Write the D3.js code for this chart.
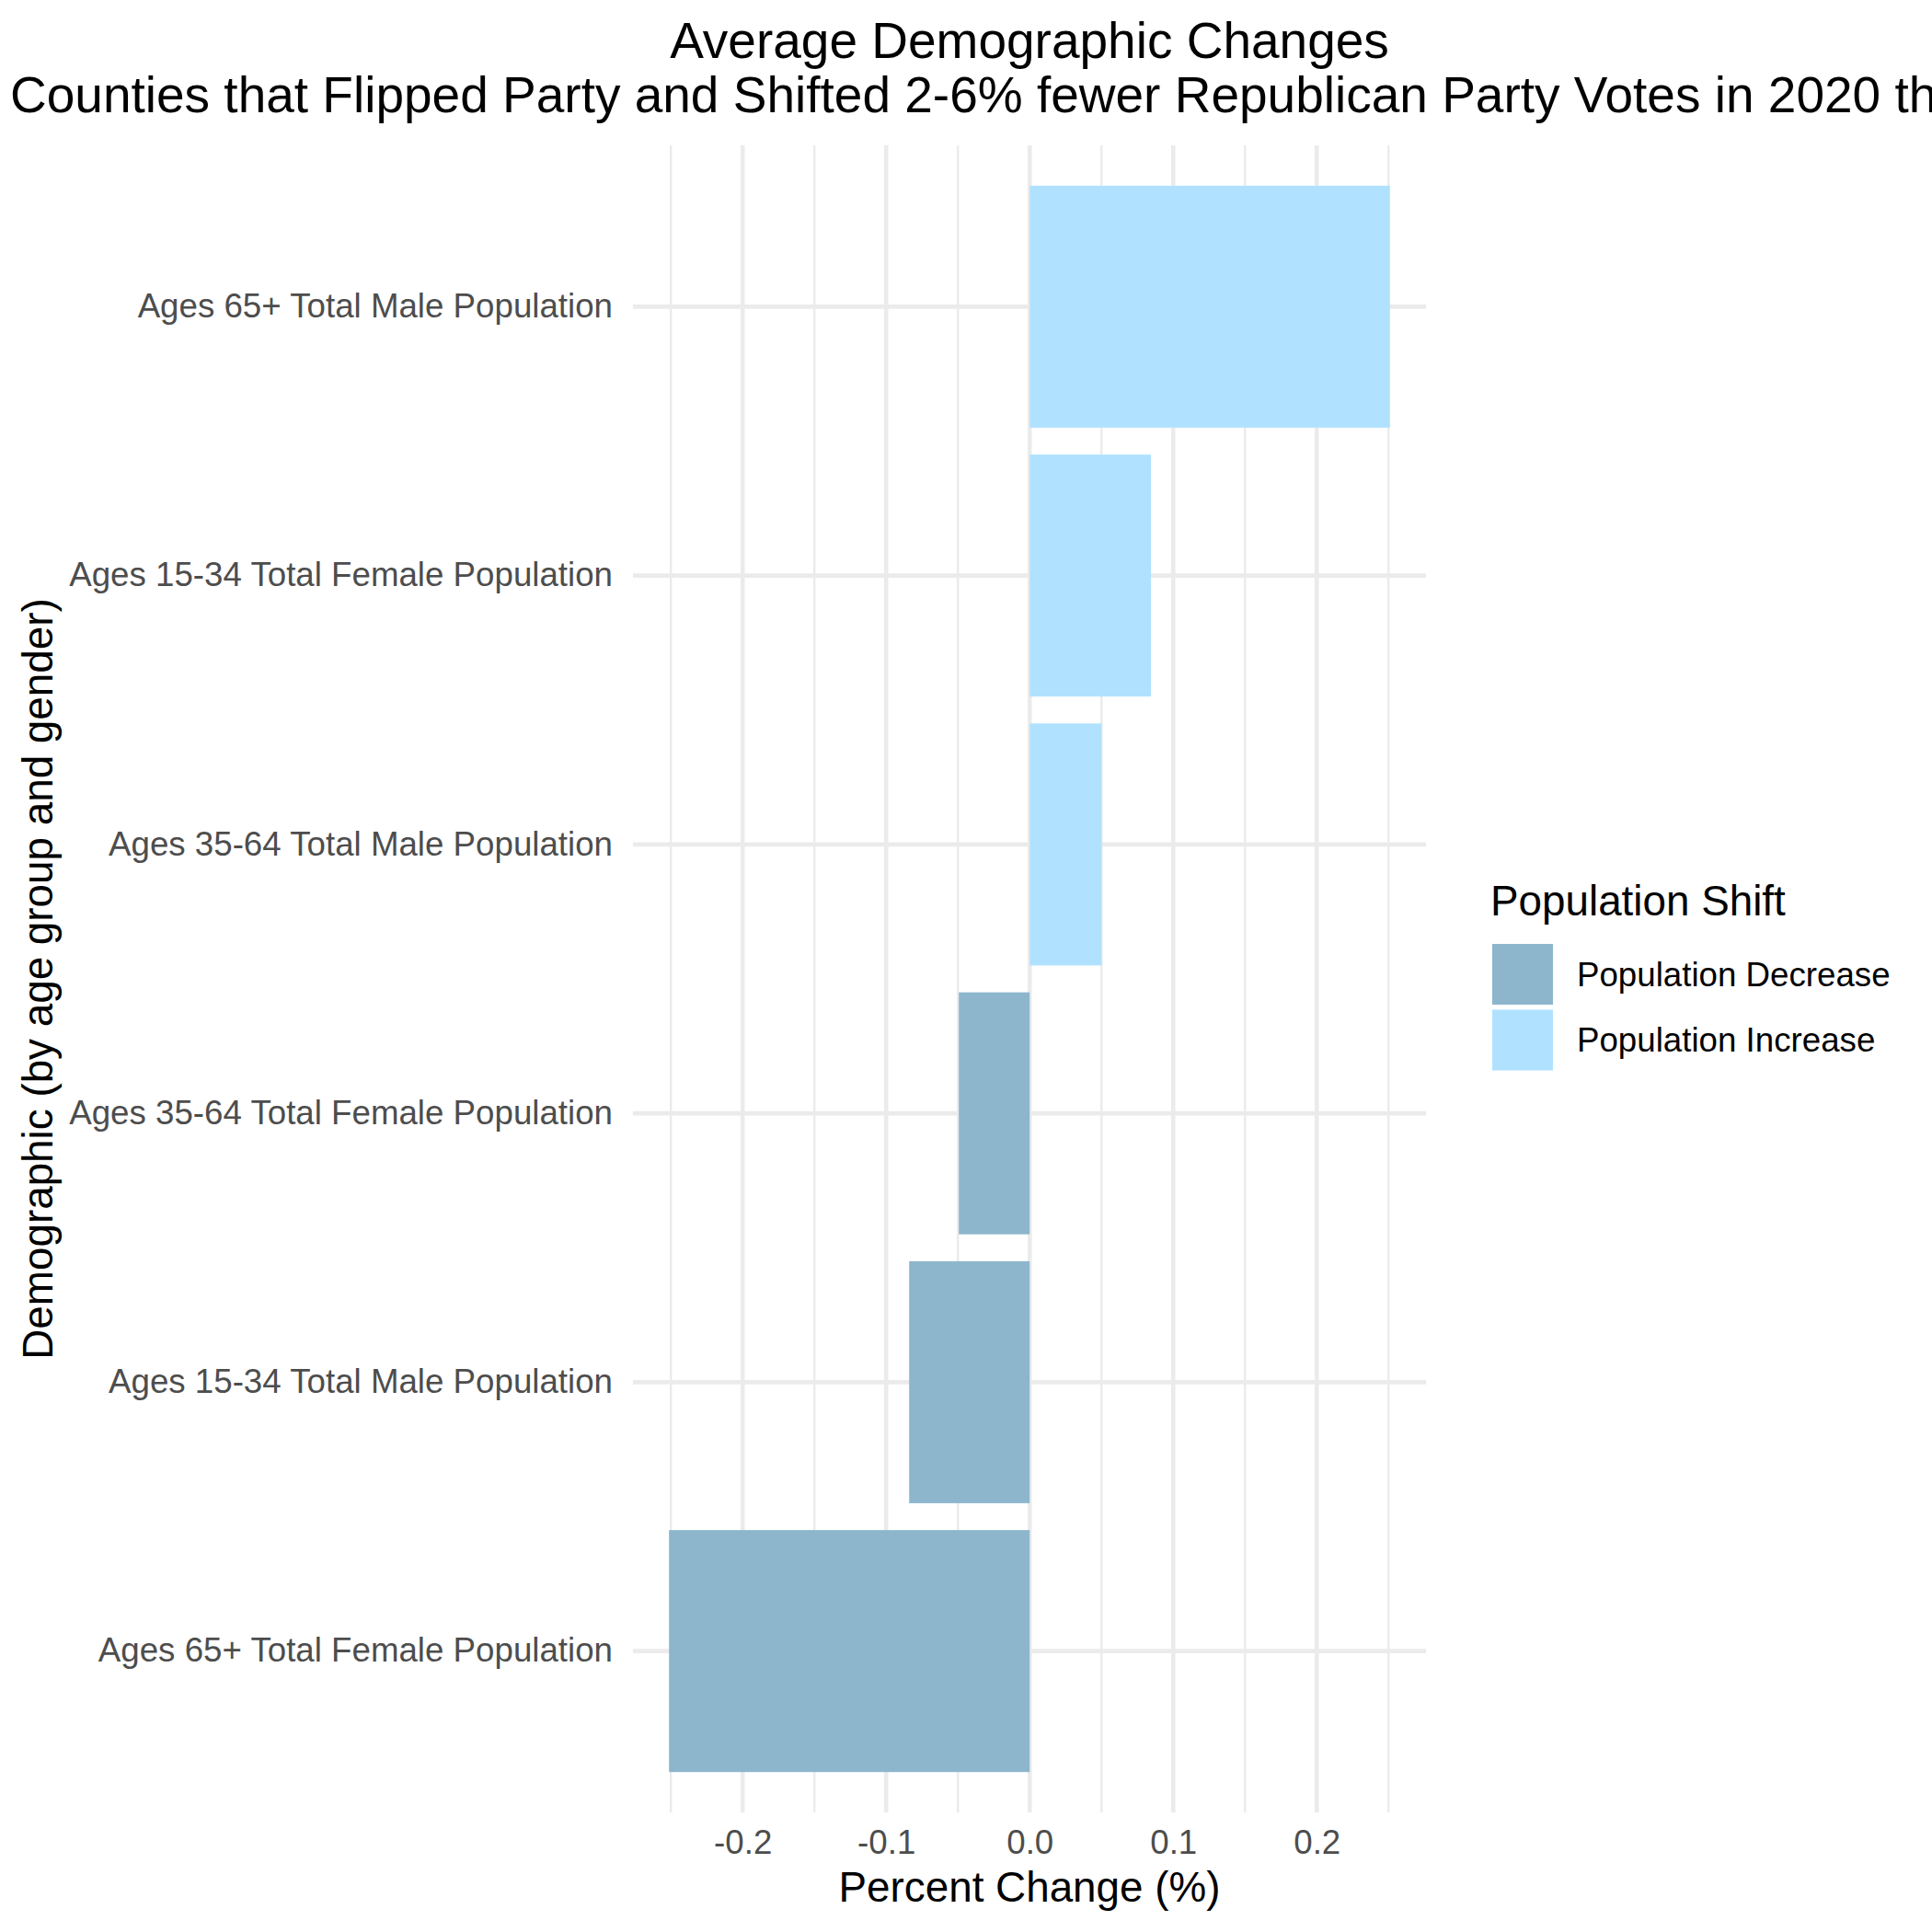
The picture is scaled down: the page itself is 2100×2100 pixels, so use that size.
<html lang="en">
<head>
    <meta charset="UTF-8">
    <title>Average Demographic Changes</title>
    <style>
      body { margin: 0; background: #fff; }
      text { font-family: "Liberation Sans", Arial, Helvetica, sans-serif; }
    </style>
</head>
<body>

<!-- Load d3.js -->
<script src="https://d3js.org/d3.v7.min.js"></script>

<!-- Create a div where the graph will take place -->
<div id="my_dataviz"></div>

<script>

    // data, top bar first
    var demographics = [
      "Ages 65+ Total Male Population",
      "Ages 15-34 Total Female Population",
      "Ages 35-64 Total Male Population",
      "Ages 35-64 Total Female Population",
      "Ages 15-34 Total Male Population",
      "Ages 65+ Total Female Population"
    ];
    var pctChange = [0.2510, 0.0845, 0.0502, -0.0494, -0.0840, -0.2513];
    var shift = [
      "Population Increase",
      "Population Increase",
      "Population Increase",
      "Population Decrease",
      "Population Decrease",
      "Population Decrease"
    ];
    var shiftLevels = ["Population Decrease", "Population Increase"];
    var shiftColors = ["#8DB6CD", "#B0E2FF"];
    var majorTicks = [-0.2, -0.1, 0.0, 0.1, 0.2];
    var minorTicks = [-0.25, -0.15, -0.05, 0.05, 0.15, 0.25];

    var data = demographics.map(function(d, i) {
      return {name: d, value: pctChange[i], shift: shift[i]};
    });

    // canvas and panel
    var W = 2100, H = 2100;
    var panel = {left: 688, right: 1550, top: 158, bottom: 1970};

    var svg = d3.select("#my_dataviz")
      .append("svg")
        .attr("width", W)
        .attr("height", H);

    svg.append("rect")
        .attr("width", W)
        .attr("height", H)
        .attr("fill", "white");

    // X scale, 5% expansion like ggplot
    var lo = d3.min(pctChange), hi = d3.max(pctChange);
    var pad = (hi - lo) * 0.05;
    var x = d3.scaleLinear()
      .domain([lo - pad, hi + pad])
      .range([panel.left, panel.right]);

    // Y scale
    var y = d3.scaleBand()
      .domain(demographics)
      .range([panel.top, panel.bottom])
      .paddingInner(0.1)
      .paddingOuter(0.15);

    var color = d3.scaleOrdinal()
      .domain(shiftLevels)
      .range(shiftColors);

    // grid lines
    svg.selectAll("minorgrid")
      .data(minorTicks)
      .enter()
      .append("line")
        .attr("x1", function(d) { return x(d); })
        .attr("x2", function(d) { return x(d); })
        .attr("y1", panel.top)
        .attr("y2", panel.bottom)
        .attr("stroke", "#EBEBEB")
        .attr("stroke-width", 2.4);

    svg.selectAll("majorgrid")
      .data(majorTicks)
      .enter()
      .append("line")
        .attr("x1", function(d) { return x(d); })
        .attr("x2", function(d) { return x(d); })
        .attr("y1", panel.top)
        .attr("y2", panel.bottom)
        .attr("stroke", "#EBEBEB")
        .attr("stroke-width", 4.6);

    svg.selectAll("hgrid")
      .data(demographics)
      .enter()
      .append("line")
        .attr("x1", panel.left)
        .attr("x2", panel.right)
        .attr("y1", function(d) { return y(d) + y.bandwidth() / 2; })
        .attr("y2", function(d) { return y(d) + y.bandwidth() / 2; })
        .attr("stroke", "#EBEBEB")
        .attr("stroke-width", 4.6);

    // bars
    svg.selectAll("mybar")
      .data(data)
      .enter()
      .append("rect")
        .attr("x", function(d) { return x(Math.min(0, d.value)); })
        .attr("width", function(d) { return Math.abs(x(d.value) - x(0)); })
        .attr("y", function(d) { return y(d.name); })
        .attr("height", y.bandwidth())
        .attr("fill", function(d) { return color(d.shift); });

    // X axis (plain hyphen for negatives, like R)
    var xAxis = svg.append("g")
      .attr("transform", "translate(0," + panel.bottom + ")")
      .call(d3.axisBottom(x)
        .tickValues(majorTicks)
        .tickSize(0)
        .tickPadding(19)
        .tickFormat(function(d) { return d.toFixed(1); }));
    xAxis.select(".domain").remove();
    xAxis.selectAll("text")
      .attr("fill", "#4D4D4D")
      .style("font-size", "36.7px")
      .style("font-family", "'Liberation Sans', Arial, sans-serif");

    // Y axis
    var yAxis = svg.append("g")
      .attr("transform", "translate(" + panel.left + ",0)")
      .call(d3.axisLeft(y).tickSize(0).tickPadding(22));
    yAxis.select(".domain").remove();
    yAxis.selectAll("text")
      .attr("fill", "#4D4D4D")
      .style("font-size", "36.7px")
      .style("font-family", "'Liberation Sans', Arial, sans-serif");

    // axis titles
    svg.append("text")
      .attr("x", (panel.left + panel.right) / 2)
      .attr("y", 2067)
      .attr("text-anchor", "middle")
      .style("font-size", "45.8px")
      .text("Percent Change (%)");

    svg.append("text")
      .attr("transform", "translate(57," + (panel.top + panel.bottom) / 2 + ") rotate(-90)")
      .attr("text-anchor", "middle")
      .style("font-size", "45.8px")
      .text("Demographic (by age group and gender)");

    // title (second line runs off the canvas, as in the original)
    svg.append("text")
      .attr("x", (panel.left + panel.right) / 2)
      .attr("y", 63)
      .attr("text-anchor", "middle")
      .style("font-size", "55px")
      .text("Average Demographic Changes");

    svg.append("text")
      .attr("x", 11)
      .attr("y", 121.5)
      .style("font-size", "55px")
      .text("Counties that Flipped Party and Shifted 2-6% fewer Republican Party Votes in 2020 than 2016");

    // legend
    var legend = svg.append("g")
      .attr("transform", "translate(1620,0)");

    legend.append("text")
      .attr("x", 0)
      .attr("y", 995)
      .style("font-size", "45.8px")
      .text("Population Shift");

    legend.selectAll("legkey")
      .data(shiftLevels)
      .enter()
      .append("rect")
        .attr("x", 2)
        .attr("y", function(d, i) { return 1026 + i * 71.5; })
        .attr("width", 66)
        .attr("height", 66)
        .attr("fill", function(d) { return color(d); });

    legend.selectAll("leglabel")
      .data(shiftLevels)
      .enter()
      .append("text")
        .attr("x", 94)
        .attr("y", function(d, i) { return 1059 + i * 71.5; })
        .attr("dy", "0.35em")
        .style("font-size", "36.7px")
        .text(function(d) { return d; });

</script>

</body>
</html>
